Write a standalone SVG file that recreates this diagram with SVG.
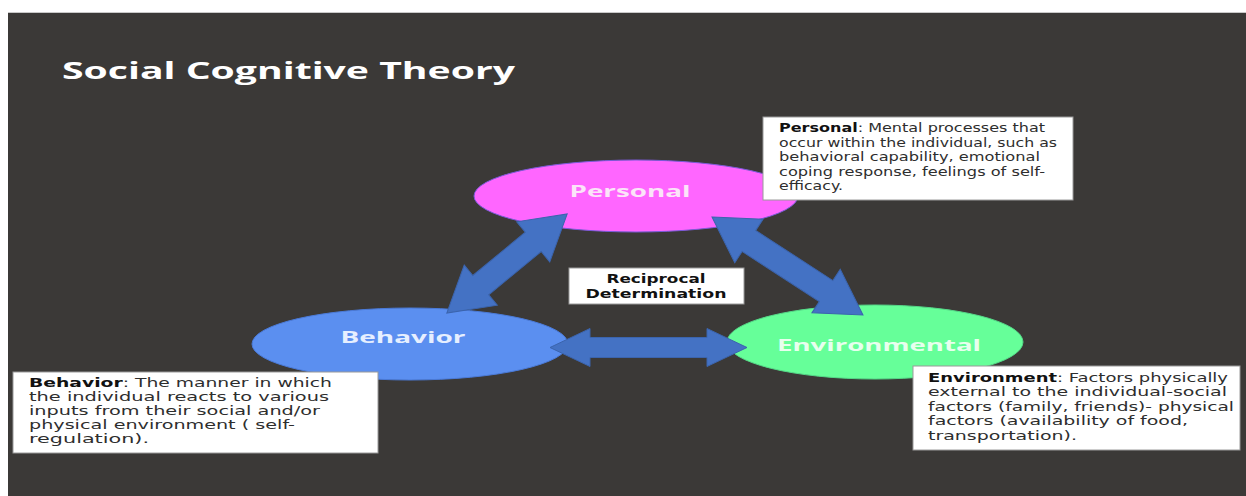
<svg xmlns="http://www.w3.org/2000/svg" width="1246" height="496" viewBox="0 0 1246 496">
<defs>
<style>
.title{font-family:"Open Sans","DejaVu Sans",sans-serif;font-weight:bold;font-size:23px;fill:#ffffff}
.lbl{font-family:"Open Sans","DejaVu Sans",sans-serif;font-weight:bold;font-size:16px}
.box{fill:#ffffff;stroke:#9a9a9a;stroke-width:1}
.bt{font-family:"DejaVu Sans","Verdana",sans-serif;font-size:12.5px;fill:#2e2e2e}
.bt .b{font-weight:bold;fill:#111111}
.rd{font-family:"DejaVu Sans","Verdana",sans-serif;font-weight:bold;font-size:11.5px;fill:#111111}
.arrow{fill:#4472c4;stroke:#3b64ad;stroke-width:1}
</style>
</defs>
<rect x="0" y="0" width="1246" height="496" fill="#ffffff"/>
<rect x="8" y="12" width="1238" height="484" fill="#3b3937"/>
<line x1="8" y1="12.5" x2="1246" y2="12.5" stroke="#c9c9c9" stroke-width="1"/>
<text class="title" x="62" y="79" textLength="453" lengthAdjust="spacingAndGlyphs">Social Cognitive Theory</text>

<g id="node-personal">
<ellipse cx="636" cy="196" rx="162" ry="36" fill="#ff66ff" stroke="#7a5ad8" stroke-width="1"/>
<text class="lbl" x="630" y="197" text-anchor="middle" fill="#fbe4f8" textLength="121" lengthAdjust="spacingAndGlyphs">Personal</text>
</g>
<g id="node-behavior">
<ellipse cx="410" cy="344" rx="158" ry="36" fill="#5b8ff0" stroke="#4a7ad8" stroke-width="1"/>
<text class="lbl" x="403" y="343" text-anchor="middle" fill="#e6efff" textLength="125" lengthAdjust="spacingAndGlyphs">Behavior</text>
</g>
<g id="node-environmental">
<ellipse cx="875" cy="342" rx="148" ry="37" fill="#66ff99" stroke="#55d888" stroke-width="1"/>
<text class="lbl" x="879" y="351" text-anchor="middle" fill="#e8ffee" textLength="204" lengthAdjust="spacingAndGlyphs">Environmental</text>
</g>

<g id="connectors">
<polygon class="arrow" transform="translate(507,263.5) rotate(-39.5)" points="-78,0 -34,-26 -34,-12.5 34,-12.5 34,-26 78,0 34,26 34,12.5 -34,12.5 -34,26"/>
<polygon class="arrow" transform="translate(787.5,266) rotate(33)" points="-90,0 -46,-26 -46,-12.5 46,-12.5 46,-26 90,0 46,26 46,12.5 -46,12.5 -46,26"/>
<polygon class="arrow" transform="translate(648.5,347.5)" points="-98.5,0 -58.5,-19 -58.5,-10 58.5,-10 58.5,-19 98.5,0 58.5,19 58.5,10 -58.5,10 -58.5,19"/>
</g>

<g id="node-reciprocal">
<rect class="box" x="569" y="268" width="175" height="36"/>
<text class="rd" x="656" y="283" text-anchor="middle" textLength="99" lengthAdjust="spacingAndGlyphs">Reciprocal</text>
<text class="rd" x="656" y="297.5" text-anchor="middle" textLength="141" lengthAdjust="spacingAndGlyphs">Determination</text>
</g>

<g id="note-personal">
<rect class="box" x="763" y="117" width="310" height="83"/>
<text class="bt" x="779" y="132" textLength="266" lengthAdjust="spacingAndGlyphs"><tspan class="b">Personal</tspan>: Mental processes that</text>
<text class="bt" x="779" y="146.5" textLength="278" lengthAdjust="spacingAndGlyphs">occur within the individual, such as</text>
<text class="bt" x="779" y="161" textLength="261" lengthAdjust="spacingAndGlyphs">behavioral capability, emotional</text>
<text class="bt" x="779" y="175.5" textLength="266" lengthAdjust="spacingAndGlyphs">coping response, feelings of self-</text>
<text class="bt" x="779" y="190" textLength="64" lengthAdjust="spacingAndGlyphs">efficacy.</text>
</g>

<g id="note-behavior">
<rect class="box" x="13" y="372" width="365" height="81"/>
<text class="bt" x="29" y="387" textLength="303" lengthAdjust="spacingAndGlyphs"><tspan class="b">Behavior</tspan>: The manner in which</text>
<text class="bt" x="29" y="401" textLength="300" lengthAdjust="spacingAndGlyphs">the individual reacts to various</text>
<text class="bt" x="29" y="415" textLength="291" lengthAdjust="spacingAndGlyphs">inputs from their social and/or</text>
<text class="bt" x="29" y="429" textLength="266" lengthAdjust="spacingAndGlyphs">physical environment ( self-</text>
<text class="bt" x="29" y="443" textLength="120" lengthAdjust="spacingAndGlyphs">regulation).</text>
</g>

<g id="note-environment">
<rect class="box" x="913" y="366" width="327" height="84"/>
<text class="bt" x="928" y="382" textLength="300" lengthAdjust="spacingAndGlyphs"><tspan class="b">Environment</tspan>: Factors physically</text>
<text class="bt" x="928" y="396" textLength="299" lengthAdjust="spacingAndGlyphs">external to the individual-social</text>
<text class="bt" x="928" y="410.5" textLength="306" lengthAdjust="spacingAndGlyphs">factors (family, friends)- physical</text>
<text class="bt" x="928" y="425" textLength="260" lengthAdjust="spacingAndGlyphs">factors (availability of food,</text>
<text class="bt" x="928" y="439.5" textLength="149" lengthAdjust="spacingAndGlyphs">transportation).</text>
</g>
</svg>
